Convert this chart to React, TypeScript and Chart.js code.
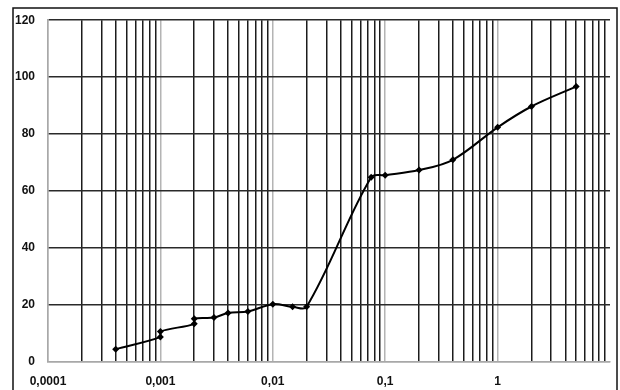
import React, { useEffect, useRef } from "react";
import { Chart, registerables } from "chart.js";

Chart.register(...registerables);

const xValues = [0.0004, 0.001, 0.001, 0.002, 0.002, 0.003, 0.004, 0.006, 0.01, 0.015, 0.02, 0.075, 0.1, 0.2, 0.4, 1, 2, 5];
const yValues = [4.5, 8.8, 10.7, 13.4, 15.2, 15.6, 17.2, 17.7, 20.3, 19.4, 19.4, 64.9, 65.6, 67.4, 71.0, 82.4, 89.7, 96.7];
const decadeExponents = [-4, -3, -2, -1, 0];
const decadeLabels = ["0,0001", "0,001", "0,01", "0,1", "1"];
const significands = [1, 2, 3, 4, 5, 6, 7, 8, 9];

const framePlugin = {
  id: "frame",
  afterDraw(chart: any) {
    const ctx = chart.ctx;
    ctx.save();
    ctx.strokeStyle = "#111";
    ctx.lineWidth = 1.5;
    ctx.strokeRect(13, 8, 604, 400);
    ctx.restore();
  },
};

export default function App() {
  const ref = useRef<HTMLCanvasElement>(null);
  useEffect(() => {
    document.body.style.margin = "0";
    const canvas = ref.current!;
    const tickList: { value: number; label: string }[] = [];
    decadeExponents.forEach((e, di) => {
      significands.forEach((s) => {
        tickList.push({ value: s * Math.pow(10, e), label: s === 1 ? decadeLabels[di] : "" });
      });
    });
    const font = { family: "'Liberation Sans', Arial, sans-serif", size: 12, weight: "bold" as const };
    const chart = new Chart(canvas, {
      type: "scatter",
      data: {
        datasets: [
          {
            data: xValues.map((x, i) => ({ x, y: yValues[i] })),
            showLine: true,
            borderColor: "#000",
            backgroundColor: "#000",
            borderWidth: 2,
            tension: 0.35,
            pointStyle: "rectRot",
            pointRadius: 3.5,
            pointBorderWidth: 0,
          },
        ],
      },
      plugins: [framePlugin],
      options: {
        animation: false,
        responsive: false,
        layout: { padding: { top: 16, right: 10, left: 0, bottom: 0 } },
        plugins: { legend: { display: false }, tooltip: { enabled: false } },
        scales: {
          x: {
            type: "logarithmic",
            min: 0.0001,
            max: 10,
            afterBuildTicks: (scale: any) => {
              scale.ticks = tickList.map((t) => ({ value: t.value }));
            },
            afterFit: (scale: any) => {
              scale.height = 28;
            },
            border: { display: true, color: "#a8a8a8", width: 1.5 },
            grid: {
              drawTicks: false,
              lineWidth: 1.5,
              color: (ctx: any) => {
                const idx = ctx.index;
                const t = tickList[idx];
                return t && t.label ? "#b4b4b4" : "#1c1c1c";
              },
            },
            ticks: {
              autoSkip: false,
              maxRotation: 0,
              padding: 12,
              color: "#111",
              font,
              callback: (_v: any, i: number) => (tickList[i] ? tickList[i].label : ""),
            },
          },
          y: {
            min: 0,
            max: 120,
            afterFit: (scale: any) => {
              scale.width = 48;
            },
            border: { display: true, color: "#a8a8a8", width: 1.5 },
            grid: {
              drawTicks: false,
              lineWidth: 1.5,
              color: (ctx: any) => (ctx.tick && ctx.tick.value === 0 ? "#a8a8a8" : "#2a2a2a"),
            },
            ticks: { stepSize: 20, padding: 13, color: "#111", font },
          },
        },
      },
    });
    return () => chart.destroy();
  }, []);
  return (
    <div style={{ width: 620, height: 390, background: "#fff" }}>
      <canvas ref={ref} width={620} height={390} style={{ display: "block" }} />
    </div>
  );
}
